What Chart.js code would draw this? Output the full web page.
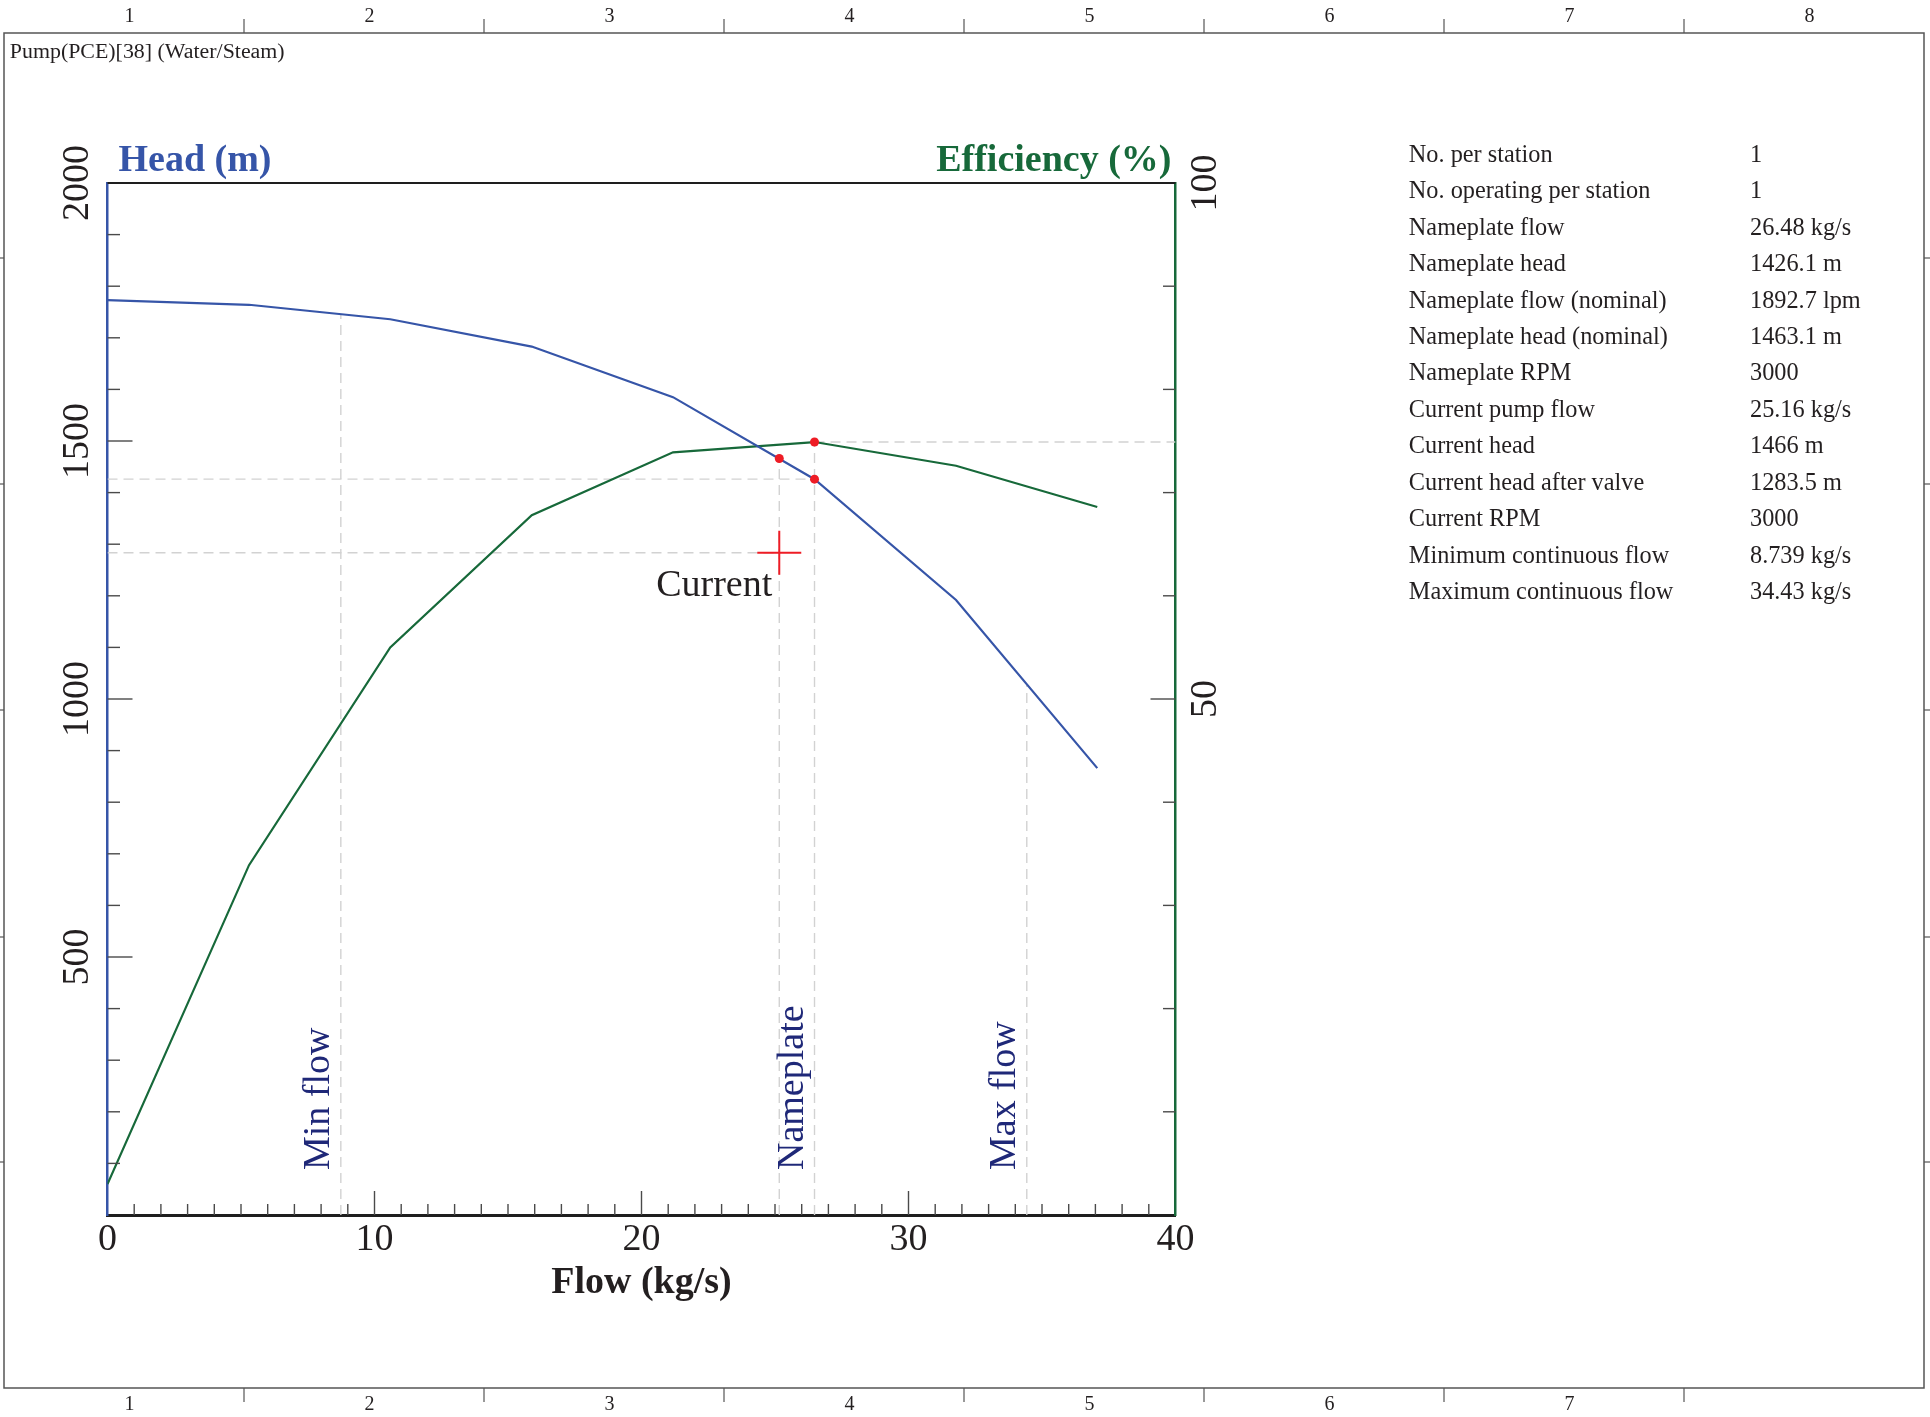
<!DOCTYPE html>
<html>
<head>
<meta charset="utf-8">
<title>Pump(PCE)[38] (Water/Steam)</title>
<script src="https://cdn.jsdelivr.net/npm/chart.js@4.4.1/dist/chart.umd.min.js"></script>
<style>
  html, body { margin: 0; padding: 0; background: #fff; overflow: hidden; }
  body { width: 1930px; height: 1417px; position: relative; }
  #chart { position: absolute; left: 0; top: 0; }
  #page { position: absolute; left: 0; top: 0; }
  #page text { font-family: "Liberation Serif", "DejaVu Serif", serif; fill: #231f20; }
</style>
</head>
<body>
<canvas id="chart" width="1930" height="1417" style="width:1930px;height:1417px"></canvas>
<svg id="page" width="1930" height="1417" xmlns="http://www.w3.org/2000/svg"></svg>
<script>
// pump curve
var flows  = [0, 5.3, 10.59, 15.89, 21.18, 26.48, 31.78, 37.07];   // kg/s
var headM  = [1773, 1764, 1736, 1683, 1585, 1426, 1192, 866];       // m
var effPct = [3.0, 33.9, 55.0, 67.8, 73.9, 74.9, 72.6, 68.6];       // %

var nameplateFlow = 26.48, nameplateHead = 1426.1, nameplateEff = 74.9;
var currentFlow = 25.16, currentHead = 1466, currentHeadAfterValve = 1283.5;
var minFlow = 8.739, maxFlow = 34.43;
var minFlowHeadTop = 1746, maxFlowHeadTop = 1029;   // where the limit lines meet the head curve

var flowRange = [0, 40];
var headRange = [0, 2000];
var effRange = [0, 100];
var headTickLabels = [500, 1000, 1500, 2000];
var effTickLabels = [50, 100];

var infoLabels = ['No. per station', 'No. operating per station', 'Nameplate flow', 'Nameplate head',
  'Nameplate flow (nominal)', 'Nameplate head (nominal)', 'Nameplate RPM', 'Current pump flow',
  'Current head', 'Current head after valve', 'Current RPM', 'Minimum continuous flow', 'Maximum continuous flow'];
var infoValues = ['1', '1', '26.48 kg/s', '1426.1 m', '1892.7 lpm', '1463.1 m', '3000', '25.16 kg/s',
  '1466 m', '1283.5 m', '3000', '8.739 kg/s', '34.43 kg/s'];

var rulerTop = ['1', '2', '3', '4', '5', '6', '7', '8'];
var rulerBottom = ['1', '2', '3', '4', '5', '6', '7'];

var SERIF = '"Liberation Serif", "DejaVu Serif", serif';
var INK = '#231f20';
var BLUE = '#3655a8';
var GREEN = '#17693a';
var NAVY = '#1f2878';
var RED = '#ee1c25';
var DASH = '#d2d2d2';

function pts(xs, ys) {
  return xs.map(function (x, i) { return {x: x, y: ys[i]}; });
}
function guide(data, axis) {
  return {data: data, yAxisID: axis, showLine: true, pointRadius: 0, borderColor: DASH,
    borderWidth: 1.4, borderDash: [10, 6], order: 3};
}

// the page frame, rulers, title and info table
(function () {
  var svg = document.getElementById('page');
  var ns = 'http://www.w3.org/2000/svg';
  function el(name, attrs, txt) {
    var e = document.createElementNS(ns, name);
    for (var k in attrs) e.setAttribute(k, attrs[k]);
    if (txt !== undefined) e.textContent = txt;
    svg.appendChild(e);
    return e;
  }
  el('rect', {x: 4, y: 33, width: 1920, height: 1355, fill: 'none', stroke: '#555', 'stroke-width': 1.5});
  for (var k = 0; k < 7; k++) {
    var tx = 244 + 240 * k;
    el('line', {x1: tx, y1: 19, x2: tx, y2: 33, stroke: '#555', 'stroke-width': 1.2});
    el('line', {x1: tx, y1: 1388, x2: tx, y2: 1402, stroke: '#555', 'stroke-width': 1.2});
  }
  [258, 484, 710, 937, 1162].forEach(function (sy) {
    el('line', {x1: 0, y1: sy, x2: 4, y2: sy, stroke: '#555', 'stroke-width': 1.2});
    el('line', {x1: 1924, y1: sy, x2: 1930, y2: sy, stroke: '#555', 'stroke-width': 1.2});
  });
  rulerTop.forEach(function (t, i) {
    el('text', {x: 129.5 + 240 * i, y: 22, 'text-anchor': 'middle', 'font-size': 20}, t);
  });
  rulerBottom.forEach(function (t, i) {
    el('text', {x: 129.5 + 240 * i, y: 1410, 'text-anchor': 'middle', 'font-size': 20}, t);
  });
  el('text', {x: 9.8, y: 58.3, 'font-size': 21.9}, 'Pump(PCE)[38] (Water/Steam)');
  infoLabels.forEach(function (t, i) {
    var by = 161.7 + 36.45 * i;
    el('text', {x: 1408.8, y: by, 'font-size': 24.3}, t);
    el('text', {x: 1750, y: by, 'font-size': 24.3}, infoValues[i]);
  });
})();

// ticks pointing inward, rotated labels and annotations
var decor = {
  id: 'decor',
  afterDraw: function (chart) {
    var ctx = chart.ctx, a = chart.chartArea;
    var x = chart.scales.x, y = chart.scales.y, y1 = chart.scales.y1;
    function seg(x1, y1_, x2, y2) { ctx.beginPath(); ctx.moveTo(x1, y1_); ctx.lineTo(x2, y2); ctx.stroke(); }
    function vText(t, px, py, align) {
      ctx.save(); ctx.translate(px, py); ctx.rotate(-Math.PI / 2);
      ctx.textAlign = align; ctx.textBaseline = 'alphabetic'; ctx.fillText(t, 0, 0); ctx.restore();
    }
    ctx.save();
    ctx.strokeStyle = '#1e1e1e'; ctx.lineWidth = 2;
    seg(a.left, a.top, a.right, a.top);

    ctx.strokeStyle = '#4a4a4a'; ctx.lineWidth = 1.4;
    var v, p;
    for (v = flowRange[0] + 1; v < flowRange[1]; v += 1) {
      p = x.getPixelForValue(v);
      seg(p, a.bottom, p, a.bottom - (v % 10 === 0 ? 24 : 11));
    }
    for (v = headRange[0] + 100; v < headRange[1]; v += 100) {
      p = y.getPixelForValue(v);
      seg(a.left, p, a.left + (v % 500 === 0 ? 25 : 12.5), p);
    }
    for (v = effRange[0] + 10; v < effRange[1]; v += 10) {
      p = y1.getPixelForValue(v);
      seg(a.right, p, a.right - (v % 50 === 0 ? 25 : 12.5), p);
    }

    ctx.fillStyle = INK;
    ctx.font = '38px ' + SERIF;
    headTickLabels.forEach(function (t) { vText(String(t), a.left - 19.5, y.getPixelForValue(t), 'center'); });
    effTickLabels.forEach(function (t) { vText(String(t), a.right + 40, y1.getPixelForValue(t), 'center'); });

    ctx.font = 'bold 38px ' + SERIF;
    ctx.textBaseline = 'alphabetic';
    ctx.fillStyle = BLUE; ctx.textAlign = 'left';
    ctx.fillText('Head (m)', a.left + 11, a.top - 12);
    ctx.fillStyle = GREEN; ctx.textAlign = 'right';
    ctx.fillText('Efficiency (%)', a.right - 4, a.top - 12);

    ctx.font = '38px ' + SERIF;
    ctx.fillStyle = NAVY;
    vText('Min flow', x.getPixelForValue(minFlow) - 12, a.bottom - 45, 'left');
    vText('Nameplate', x.getPixelForValue(nameplateFlow) - 12, a.bottom - 45, 'left');
    vText('Max flow', x.getPixelForValue(maxFlow) - 12, a.bottom - 45, 'left');

    ctx.fillStyle = INK; ctx.textAlign = 'right';
    ctx.fillText('Current', x.getPixelForValue(currentFlow) - 7, y.getPixelForValue(currentHeadAfterValve) + 43);
    ctx.restore();
  }
};

new Chart(document.getElementById('chart'), {
  type: 'scatter',
  data: {
    datasets: [
      {label: 'Head', data: pts(flows, headM), yAxisID: 'y', showLine: true, pointRadius: 0,
        borderColor: BLUE, borderWidth: 2.2, order: 2},
      {label: 'Efficiency', data: pts(flows, effPct), yAxisID: 'y1', showLine: true, pointRadius: 0,
        borderColor: GREEN, borderWidth: 2.2, order: 2},
      guide([{x: minFlow, y: headRange[0]}, {x: minFlow, y: minFlowHeadTop}], 'y'),
      guide([{x: maxFlow, y: headRange[0]}, {x: maxFlow, y: maxFlowHeadTop}], 'y'),
      guide([{x: currentFlow, y: headRange[0]}, {x: currentFlow, y: currentHead}], 'y'),
      guide([{x: nameplateFlow, y: effRange[0]}, {x: nameplateFlow, y: nameplateEff}], 'y1'),
      guide([{x: flowRange[0], y: nameplateHead}, {x: nameplateFlow, y: nameplateHead}], 'y'),
      guide([{x: flowRange[0], y: currentHeadAfterValve}, {x: currentFlow, y: currentHeadAfterValve}], 'y'),
      guide([{x: nameplateFlow, y: nameplateEff}, {x: flowRange[1], y: nameplateEff}], 'y1'),
      {label: 'Points', data: [{x: currentFlow, y: currentHead}, {x: nameplateFlow, y: nameplateHead}],
        yAxisID: 'y', pointRadius: 4.5, backgroundColor: RED, borderWidth: 0, order: 0},
      {label: 'BEP', data: [{x: nameplateFlow, y: nameplateEff}], yAxisID: 'y1',
        pointRadius: 4.5, backgroundColor: RED, borderWidth: 0, order: 0},
      {label: 'Current', data: [{x: currentFlow, y: currentHeadAfterValve}], yAxisID: 'y',
        pointStyle: 'cross', pointRadius: 22, borderColor: RED, borderWidth: 2, order: 0}
    ]
  },
  options: {
    responsive: false,
    devicePixelRatio: 1,
    animation: false,
    layout: {padding: {left: 0, top: 183, right: 654.5, bottom: 102}},
    plugins: {legend: {display: false}, tooltip: {enabled: false}, title: {display: false}},
    scales: {
      x: {
        type: 'linear', position: 'bottom', min: flowRange[0], max: flowRange[1],
        afterFit: function (s) { s.height = 100; },
        grid: {display: false, drawTicks: false},
        border: {display: true, color: '#1e1e1e', width: 3},
        ticks: {stepSize: 10, padding: 2, color: INK, maxRotation: 0, autoSkip: false,
          font: {family: SERIF, size: 38}},
        title: {display: true, text: 'Flow (kg/s)', color: INK, padding: {top: 0, bottom: 9.2},
          font: {family: SERIF, size: 38, weight: 'bold'}}
      },
      y: {
        type: 'linear', position: 'left', min: headRange[0], max: headRange[1],
        afterFit: function (s) { s.width = 107.5; },
        grid: {display: false, drawTicks: false},
        border: {display: true, color: BLUE, width: 2.5},
        ticks: {display: false}
      },
      y1: {
        type: 'linear', position: 'right', min: effRange[0], max: effRange[1],
        afterFit: function (s) { s.width = 100; },
        grid: {display: false, drawTicks: false},
        border: {display: true, color: GREEN, width: 2.5},
        ticks: {display: false}
      }
    }
  },
  plugins: [decor]
});
</script>
</body>
</html>
